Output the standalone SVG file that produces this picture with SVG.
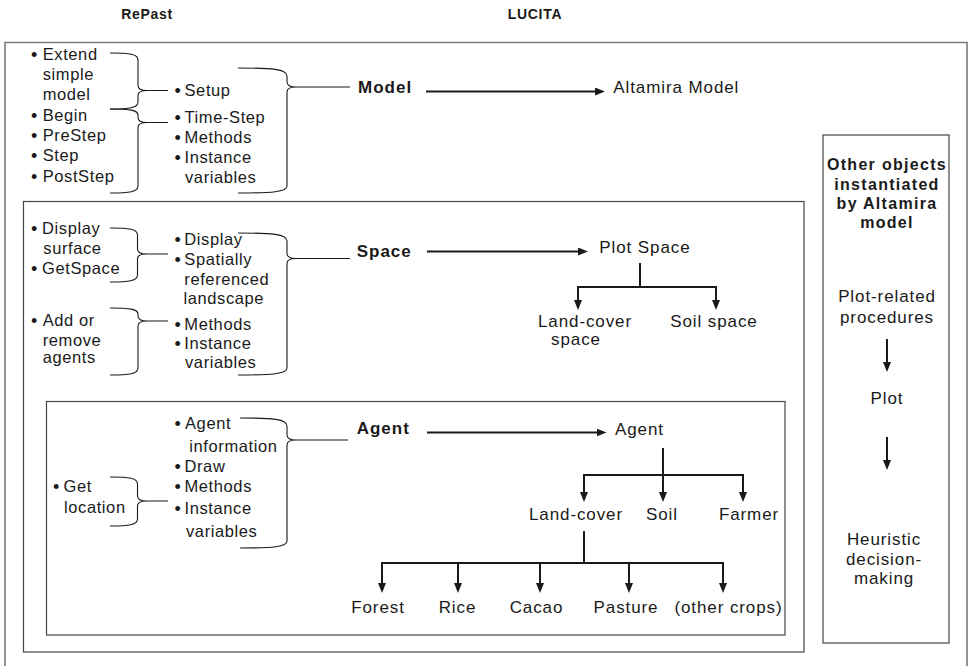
<svg xmlns="http://www.w3.org/2000/svg" width="970" height="666" viewBox="0 0 970 666">
<defs>
<marker id="ah" viewBox="0 0 10 8" refX="2" refY="4" markerWidth="10" markerHeight="8" markerUnits="userSpaceOnUse" orient="auto">
<path d="M0,0 L10,4 L0,8 z" fill="#1a1a1a"/>
</marker>
<style>
text{font-family:"Liberation Sans",Arial,Helvetica,sans-serif;fill:#1a1a1a}
.hd{font-size:14px;font-weight:bold;letter-spacing:0.7px;text-anchor:middle}
.l{font-size:16.5px;letter-spacing:0.6px}
.b{font-size:18px;letter-spacing:0}
.k{font-size:17px;font-weight:bold;letter-spacing:1px}
.r{font-size:17px;letter-spacing:0.9px}
.c{text-anchor:middle}
.ob{font-size:16px;font-weight:bold;letter-spacing:1.3px;text-anchor:middle}
.box{fill:none;stroke:#444;stroke-width:1.2}
.outer{fill:none;stroke:#7a7a7a;stroke-width:1.6}
.br{fill:none;stroke:#1a1a1a;stroke-width:1.1}
.ln{fill:none;stroke:#1a1a1a;stroke-width:2}
.ar{fill:none;stroke:#1a1a1a;stroke-width:2;marker-end:url(#ah)}
</style>
</defs>
<rect width="970" height="666" fill="#fff"/>

<g id="headers">
<text class="hd" x="147" y="19">RePast</text>
<text class="hd" x="535" y="19">LUCITA</text>
</g>

<g id="frames">
<path class="outer" d="M5,666 V42.5 H967 V666"/>
<rect id="space-box" class="box" x="23.5" y="201.5" width="780.5" height="450.5"/>
<rect id="agent-box" class="box" x="46.5" y="401.5" width="738.5" height="233.5"/>
<rect id="other-box" class="box" x="823" y="135" width="126" height="508"/>
</g>

<g id="model-repast">
<text class="l"><tspan class="b" x="31" y="60.5">•</tspan><tspan x="42.7" y="59.5">Extend</tspan></text>
<text class="l" x="42.7" y="80">simple</text>
<text class="l" x="42.7" y="100">model</text>
<text class="l"><tspan class="b" x="31" y="121.5">•</tspan><tspan x="42.7" y="120.5">Begin</tspan></text>
<text class="l"><tspan class="b" x="31" y="142">•</tspan><tspan x="42.7" y="141">PreStep</tspan></text>
<text class="l"><tspan class="b" x="31" y="162">•</tspan><tspan x="42.7" y="161">Step</tspan></text>
<text class="l"><tspan class="b" x="31" y="182.5">•</tspan><tspan x="42.7" y="181.5">PostStep</tspan></text>
<text class="l"><tspan class="b" x="174.5" y="96.5">•</tspan><tspan x="184.5" y="95.5">Setup</tspan></text>
<text class="l"><tspan class="b" x="174.5" y="124">•</tspan><tspan x="184.5" y="123">Time-Step</tspan></text>
<text class="l"><tspan class="b" x="174.5" y="144">•</tspan><tspan x="184.5" y="143">Methods</tspan></text>
<text class="l"><tspan class="b" x="174.5" y="164">•</tspan><tspan x="184.5" y="163">Instance</tspan></text>
<text class="l" x="185" y="183">variables</text>
<text class="k" x="358" y="93.3">Model</text>
</g>

<g id="space-repast">
<text class="l"><tspan class="b" x="31" y="235.3">•</tspan><tspan x="42" y="234.3">Display</tspan></text>
<text class="l" x="43.3" y="253.5">surface</text>
<text class="l"><tspan class="b" x="31" y="274.8">•</tspan><tspan x="42" y="273.8">GetSpace</tspan></text>
<text class="l"><tspan class="b" x="31" y="327">•</tspan><tspan x="42.7" y="326">Add or</tspan></text>
<text class="l" x="42.7" y="346">remove</text>
<text class="l" x="42.7" y="363.3">agents</text>
<text class="l"><tspan class="b" x="174.5" y="246.3">•</tspan><tspan x="184.3" y="245.3">Display</tspan></text>
<text class="l"><tspan class="b" x="174.5" y="265.5">•</tspan><tspan x="184.3" y="264.5">Spatially</tspan></text>
<text class="l" x="184.3" y="285">referenced</text>
<text class="l" x="183.5" y="303.5">landscape</text>
<text class="l"><tspan class="b" x="174.5" y="330.8">•</tspan><tspan x="184.3" y="329.8">Methods</tspan></text>
<text class="l"><tspan class="b" x="174.5" y="349.8">•</tspan><tspan x="184.3" y="348.8">Instance</tspan></text>
<text class="l" x="185" y="368">variables</text>
<text class="k" x="356.7" y="257">Space</text>
</g>

<g id="agent-repast">
<text class="l"><tspan class="b" x="174.5" y="430.3">•</tspan><tspan x="185" y="429.3">Agent</tspan></text>
<text class="l" x="189.3" y="451.5">information</text>
<text class="l"><tspan class="b" x="174.5" y="472.5">•</tspan><tspan x="184.5" y="471.5">Draw</tspan></text>
<text class="l"><tspan class="b" x="174.5" y="492.7">•</tspan><tspan x="184.5" y="491.7">Methods</tspan></text>
<text class="l"><tspan class="b" x="174.5" y="515">•</tspan><tspan x="184.5" y="514">Instance</tspan></text>
<text class="l" x="186" y="536.5">variables</text>
<text class="l"><tspan class="b" x="53" y="493.3">•</tspan><tspan x="63.5" y="492.3">Get</tspan></text>
<text class="l" x="64" y="512.7">location</text>
<text class="k" x="356.7" y="434.3">Agent</text>
</g>

<g id="braces">
<path class="br" d="M110,53 C129.6,53 138,54 138,60 L138,85.5 C138,89.5 141,90.5 147,90.5 L168,90.5 M147,90.5 C141,90.5 138,91.5 138,95.5 L138,102 C138,108 129.6,109 110,109"/>
<path class="br" d="M110,109 C129.6,109 138,110 138,115 L138,117.5 C138,121.5 141,122.5 147,122.5 L168,122.5 M147,122.5 C141,122.5 138,123.5 138,127.5 L138,186 C138,192 129.6,193 110,193"/>
<path class="br" d="M238,68 C272,68 287,69 287,76 L287,82 C287,86 290,87 296,87 L350,87 M296,87 C290,87 287,88 287,92 L287,186 C287,192 272,193 238,193"/>
<path class="br" d="M110,228 C129,228 137.5,229 137.5,235 L137.5,249 C137.5,253 140.5,254 146.5,254 L168,254 M146.5,254 C140.5,254 137.5,255 137.5,259 L137.5,275 C137.5,281 129,282 110,282"/>
<path class="br" d="M110,308 C129.6,308 138,309 138,314 L138,316 C138,320 141,321 147,321 L168,321 M147,321 C141,321 138,322 138,326 L138,368 C138,374 129.6,375 110,375"/>
<path class="br" d="M238,233 C272,233 287,234 287,241 L287,253.5 C287,257.5 290,258.5 296,258.5 L350,258.5 M296,258.5 C290,258.5 287,259.5 287,263.5 L287,368 C287,374 272,375 238,375"/>
<path class="br" d="M110,477 C129,477 137.5,478 137.5,484 L137.5,496 C137.5,500 140.5,501 146.5,501 L168,501 M146.5,501 C140.5,501 137.5,502 137.5,506 L137.5,519 C137.5,525 129,526 110,526"/>
<path class="br" d="M240,418 C273,418 287,419 287,426 L287,435 C287,439 290,440 296,440 L348,440 M296,440 C290,440 287,441 287,445 L287,541 C287,547 273,548 240,548"/>
</g>

<g id="model-lucita">
<text class="r" x="613.3" y="93.3">Altamira Model</text>
</g>

<g id="space-lucita">
<text class="r" x="599.3" y="253.3">Plot Space</text>
<text class="r c" x="585" y="326.7">Land-cover</text>
<text class="r c" x="576" y="345">space</text>
<text class="r c" x="714" y="326.7">Soil space</text>
</g>

<g id="agent-lucita">
<text class="r" x="615" y="435">Agent</text>
<text class="r c" x="576" y="520">Land-cover</text>
<text class="r c" x="662" y="520">Soil</text>
<text class="r c" x="749" y="520">Farmer</text>
<text class="r c" x="378" y="612.7">Forest</text>
<text class="r c" x="457.5" y="612.7">Rice</text>
<text class="r c" x="536.5" y="612.7">Cacao</text>
<text class="r c" x="626" y="612.7">Pasture</text>
<text class="r c" x="728.5" y="612.7">(other crops)</text>
</g>

<g id="other-objects">
<text class="ob" x="887" y="170">Other objects</text>
<text class="ob" x="887" y="189.5">instantiated</text>
<text class="ob" x="887" y="209">by Altamira</text>
<text class="ob" x="887" y="228">model</text>
<text class="r c" x="887" y="302">Plot-related</text>
<text class="r c" x="887" y="323">procedures</text>
<text class="r c" x="887" y="404">Plot</text>
<text class="r c" x="884" y="545">Heuristic</text>
<text class="r c" x="884" y="565">decision-</text>
<text class="r c" x="884" y="584">making</text>
</g>

<g id="connectors">
<path class="ar" d="M426,91.5 H597"/>
<path class="ar" d="M427,251.5 H580"/>
<path class="ar" d="M427,432.5 H598.5"/>
<path class="ln" d="M640,263 V287 M577,287 H717"/>
<path class="ar" d="M578,287 V302"/>
<path class="ar" d="M716,287 V302"/>
<path class="ln" d="M663,448 V475 M583,475 H744"/>
<path class="ar" d="M584,475 V494"/>
<path class="ar" d="M663,475 V494"/>
<path class="ar" d="M743,475 V494"/>
<path class="ln" d="M584,531 V563 M381,563 H724"/>
<path class="ar" d="M382,563 V585"/>
<path class="ar" d="M458,563 V585"/>
<path class="ar" d="M540,563 V585"/>
<path class="ar" d="M629,563 V585"/>
<path class="ar" d="M723,563 V585"/>
<path class="ar" d="M887,339 V364"/>
<path class="ar" d="M887,437 V462"/>
</g>
</svg>
